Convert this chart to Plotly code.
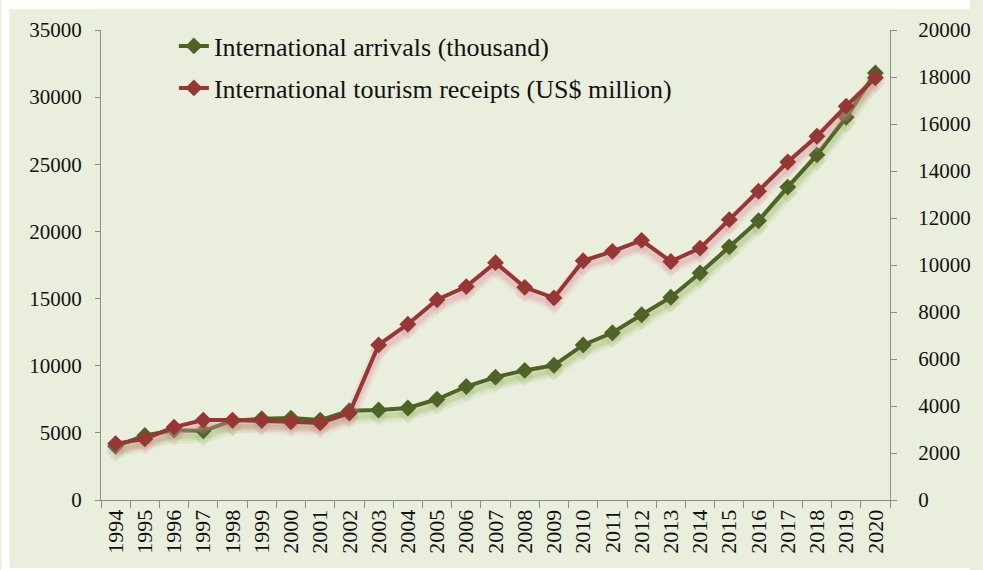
import plotly.graph_objects as go

# Tourism statistics, 1994-2020
years = [str(y) for y in range(1994, 2021)]
arrivals = [4000, 4800, 5200, 5150, 5900, 6050, 6100, 5950, 6650, 6700, 6850,
            7500, 8450, 9150, 9650, 10030, 11550, 12450, 13800, 15100, 16900,
            18850, 20800, 23300, 25700, 28500, 31800]          # thousand
receipts = [2400, 2600, 3100, 3400, 3400, 3380, 3330, 3280, 3700, 6600, 7480,
            8520, 9080, 10100, 9050, 8600, 10180, 10580, 11050, 10150, 10720,
            11930, 13140, 14380, 15480, 16760, 17970]          # US$ million

arrivals_name = "International arrivals (thousand)"
receipts_name = "International tourism receipts (US$ million)"

left_ticks = list(range(0, 35001, 5000))
right_ticks = list(range(0, 20001, 2000))

W, H = 983, 570
M_L, M_R, M_T, M_B = 101, 81, 30, 70
plot_w = W - M_L - M_R
plot_h = H - M_T - M_B

BG = "#EAEEDD"
GREEN = "#4F6228"
RED = "#953735"
GREEN_SH = "rgba(150,180,90,{a})"
RED_SH = "rgba(225,140,155,{a})"
SERIF = "Liberation Serif, Times New Roman, serif"
TXT = "#111111"

LEFT_MAX, RIGHT_MAX = 35000, 20000
shadow_px = 6
left_off = shadow_px * LEFT_MAX / plot_h
right_off = shadow_px * RIGHT_MAX / plot_h

fig = go.Figure()

# empty hosts so both visible value axes get drawn
for ax in ("y", "y2"):
    fig.add_trace(go.Scatter(x=[], y=[], yaxis=ax, showlegend=False,
                             hoverinfo="skip"))


def add_shadow(y, axis, col):
    # soft drop shadow: a few stacked translucent strokes on an offset axis
    for w, a in [(14, 0.10), (9, 0.16), (5, 0.22)]:
        fig.add_trace(go.Scatter(
            x=years, y=y, yaxis=axis, mode="lines",
            line=dict(color=col.format(a=a), width=w, shape="linear"),
            showlegend=False, hoverinfo="skip"))
    fig.add_trace(go.Scatter(
        x=years, y=y, yaxis=axis, mode="markers",
        marker=dict(symbol="diamond", size=15, color=col.format(a=0.18)),
        showlegend=False, hoverinfo="skip"))


add_shadow(arrivals, "y3", GREEN_SH)
fig.add_trace(go.Scatter(
    x=years, y=arrivals, yaxis="y4", name=arrivals_name, mode="lines+markers",
    line=dict(color=GREEN, width=4),
    marker=dict(symbol="diamond", size=13, color=GREEN),
    legend="legend"))
add_shadow(receipts, "y5", RED_SH)
fig.add_trace(go.Scatter(
    x=years, y=receipts, yaxis="y6", name=receipts_name, mode="lines+markers",
    line=dict(color=RED, width=4),
    marker=dict(symbol="diamond", size=13, color=RED),
    legend="legend2"))

axis_line = "#8C8C8C"
hidden = dict(overlaying="y", visible=False, showgrid=False, zeroline=False)
legend_x = (175 - M_L) / plot_w

fig.update_layout(
    width=W, height=H,
    margin=dict(l=M_L, r=M_R, t=M_T, b=M_B),
    paper_bgcolor=BG, plot_bgcolor="rgba(0,0,0,0)",
    font=dict(family=SERIF, color=TXT),
    xaxis=dict(type="category", categoryorder="array", categoryarray=years,
               range=[-0.5, len(years) - 0.5], autorange=False,
               tickson="boundaries", ticks="outside", ticklen=7,
               tickcolor=axis_line, showline=True, linecolor=axis_line,
               linewidth=1, showgrid=False, zeroline=False, tickangle=-90,
               tickfont=dict(size=22, family=SERIF, color=TXT)),
    yaxis=dict(range=[0, LEFT_MAX], tickvals=left_ticks, tickformat="d",
               ticks="outside", ticklen=5, tickcolor=axis_line,
               showline=True, linecolor=axis_line, linewidth=1,
               showgrid=False, zeroline=False, ticklabelstandoff=9,
               tickfont=dict(size=21, family=SERIF, color=TXT)),
    yaxis2=dict(range=[0, RIGHT_MAX], tickvals=right_ticks, tickformat="d",
                overlaying="y", side="right", anchor="x", ticks="outside",
                ticklen=6, tickcolor=axis_line, showline=True,
                linecolor=axis_line, linewidth=1, showgrid=False,
                zeroline=False, ticklabelstandoff=17,
                tickfont=dict(size=21, family=SERIF, color=TXT)),
    yaxis3=dict(range=[left_off, LEFT_MAX + left_off], **hidden),
    yaxis4=dict(range=[0, LEFT_MAX], **hidden),
    yaxis5=dict(range=[right_off, RIGHT_MAX + right_off], **hidden),
    yaxis6=dict(range=[0, RIGHT_MAX], **hidden),
    legend=dict(x=legend_x, y=1 - (46 - M_T) / plot_h,
                xanchor="left", yanchor="middle", bgcolor="rgba(0,0,0,0)",
                font=dict(size=26, family=SERIF, color=TXT)),
    legend2=dict(x=legend_x, y=1 - (88 - M_T) / plot_h,
                 xanchor="left", yanchor="middle", bgcolor="rgba(0,0,0,0)",
                 font=dict(size=26, family=SERIF, color=TXT)),
    shapes=[
        # white page border around the tinted chart area
        dict(type="rect", xref="paper", yref="paper", layer="below",
             x0=-M_L / plot_w, x1=-(M_L - 8) / plot_w, y0=-M_B / plot_h,
             y1=1 + M_T / plot_h, fillcolor="white", line_width=0),
        dict(type="rect", xref="paper", yref="paper", layer="below",
             x0=-M_L / plot_w, x1=1 + M_R / plot_w, y0=1 + (M_T - 9) / plot_h,
             y1=1 + M_T / plot_h, fillcolor="white", line_width=0),
        dict(type="rect", xref="paper", yref="paper", layer="below",
             x0=-M_L / plot_w, x1=1 + M_R / plot_w, y0=-M_B / plot_h,
             y1=-(M_B - 2) / plot_h, fillcolor="white", line_width=0),
    ],
)

fig.write_html("out.html")
